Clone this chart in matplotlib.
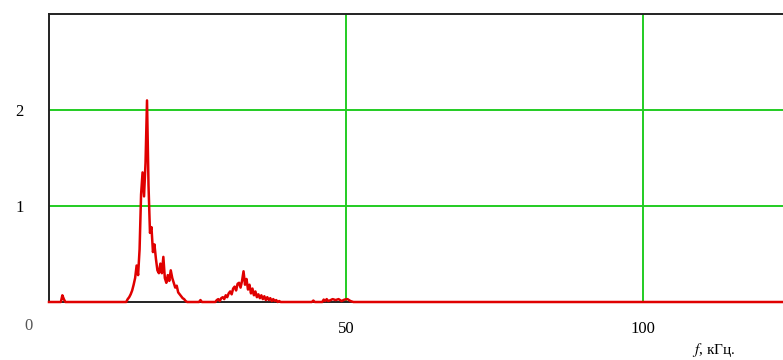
import numpy as np
import matplotlib.pyplot as plt

plt.rcParams['mathtext.fontset'] = 'stix'

# spectrum (f in kHz, amplitude)
f_low = [0.0, 2.0, 2.25, 2.5, 2.75]
a_low = [0.0, 0.0, 0.07, 0.03, 0.0]

f_main = [13.0, 13.25, 13.5, 13.75, 14.0, 14.25, 14.5, 14.75, 15.0, 15.25,
          15.5, 15.75, 16.0, 16.25, 16.5, 16.75, 17.0, 17.25, 17.5, 17.75,
          18.0, 18.25, 18.5, 18.75, 19.0, 19.25, 19.5, 19.75, 20.0, 20.25,
          20.5, 20.75, 21.0, 21.25, 21.5, 21.75, 22.0, 22.25, 22.5, 22.75,
          23.0, 23.25]
a_main = [0.0, 0.03, 0.05, 0.08, 0.12, 0.18, 0.25, 0.38, 0.28, 0.55,
          1.12, 1.35, 1.10, 1.45, 2.10, 1.22, 0.72, 0.78, 0.52, 0.60,
          0.45, 0.33, 0.30, 0.40, 0.30, 0.47, 0.25, 0.20, 0.28, 0.22,
          0.33, 0.25, 0.20, 0.15, 0.17, 0.10, 0.08, 0.06, 0.04, 0.03,
          0.01, 0.0]

f_mid = [25.25, 25.5, 25.75]
a_mid = [0.0, 0.02, 0.0]

f_second = [28.0, 28.25, 28.5, 28.75, 29.0, 29.25, 29.5, 29.75, 30.0, 30.25,
            30.5, 30.75, 31.0, 31.25, 31.5, 31.75, 32.0, 32.25, 32.5, 32.75,
            33.0, 33.25, 33.5, 33.75, 34.0, 34.25, 34.5, 34.75, 35.0, 35.25,
            35.5, 35.75, 36.0, 36.25, 36.5, 36.75, 37.0, 37.25, 37.5, 37.75,
            38.0, 38.25, 38.5, 38.75, 39.0]
a_second = [0.0, 0.02, 0.03, 0.01, 0.04, 0.05, 0.03, 0.07, 0.05, 0.09,
            0.11, 0.08, 0.14, 0.16, 0.12, 0.19, 0.20, 0.15, 0.22, 0.32,
            0.18, 0.24, 0.13, 0.18, 0.09, 0.14, 0.07, 0.11, 0.05, 0.08,
            0.04, 0.07, 0.03, 0.06, 0.02, 0.05, 0.02, 0.04, 0.01, 0.03,
            0.01, 0.02, 0.0, 0.01, 0.0]

f_tail = [44.25, 44.5, 44.75, 46.0, 46.25, 46.5, 46.75, 47.0, 47.25, 47.75,
          48.25, 48.75, 49.25, 49.75, 50.25, 50.75, 51.25, 125.0]
a_tail = [0.0, 0.015, 0.0, 0.0, 0.025, 0.01, 0.03, 0.01, 0.015, 0.03,
          0.02, 0.03, 0.01, 0.025, 0.03, 0.01, 0.0, 0.0]

f = np.array(f_low + f_main + f_mid + f_second + f_tail)
a = np.array(a_low + a_main + a_mid + a_second + a_tail)

fig = plt.figure(figsize=(7.83, 3.6), dpi=100)
ax = fig.add_axes([49 / 783, 58 / 360, 1 - 49 / 783, 288 / 360])

ax.set_xlim(0, (783 - 49) / 5.94)
ax.set_ylim(0, 3)

for x in [50, 100]:
    ax.axvline(x, color='#22cc22', lw=1.4, zorder=1)
for y in [1, 2]:
    ax.axhline(y, color='#22cc22', lw=1.4, zorder=1)

ax.plot(f, a, color='#e00000', lw=1.8, zorder=3, clip_on=False)

for side in ['left', 'top', 'bottom']:
    ax.spines[side].set_color('#222222')
    ax.spines[side].set_linewidth(1.4)
ax.spines['right'].set_visible(False)

ax.set_xticks([50, 100])
ax.set_xticklabels(['50', '100'], family='Liberation Serif', fontsize=12)
ax.set_yticks([1, 2])
ax.set_yticklabels(['1', '2'], family='Liberation Serif', fontsize=12)
ax.tick_params(length=0, pad=14)
ax.tick_params(axis='y', pad=18)

ax.text(-3.5, -0.25, '0', family='Liberation Serif', fontsize=12,
        ha='center', va='center', color='#555555')

ax.set_xlabel(r'$f$, кГц.', family='Liberation Serif', fontsize=11)
ax.xaxis.set_label_coords(0.905, -0.135)

fig.savefig('out.png', dpi=100)
